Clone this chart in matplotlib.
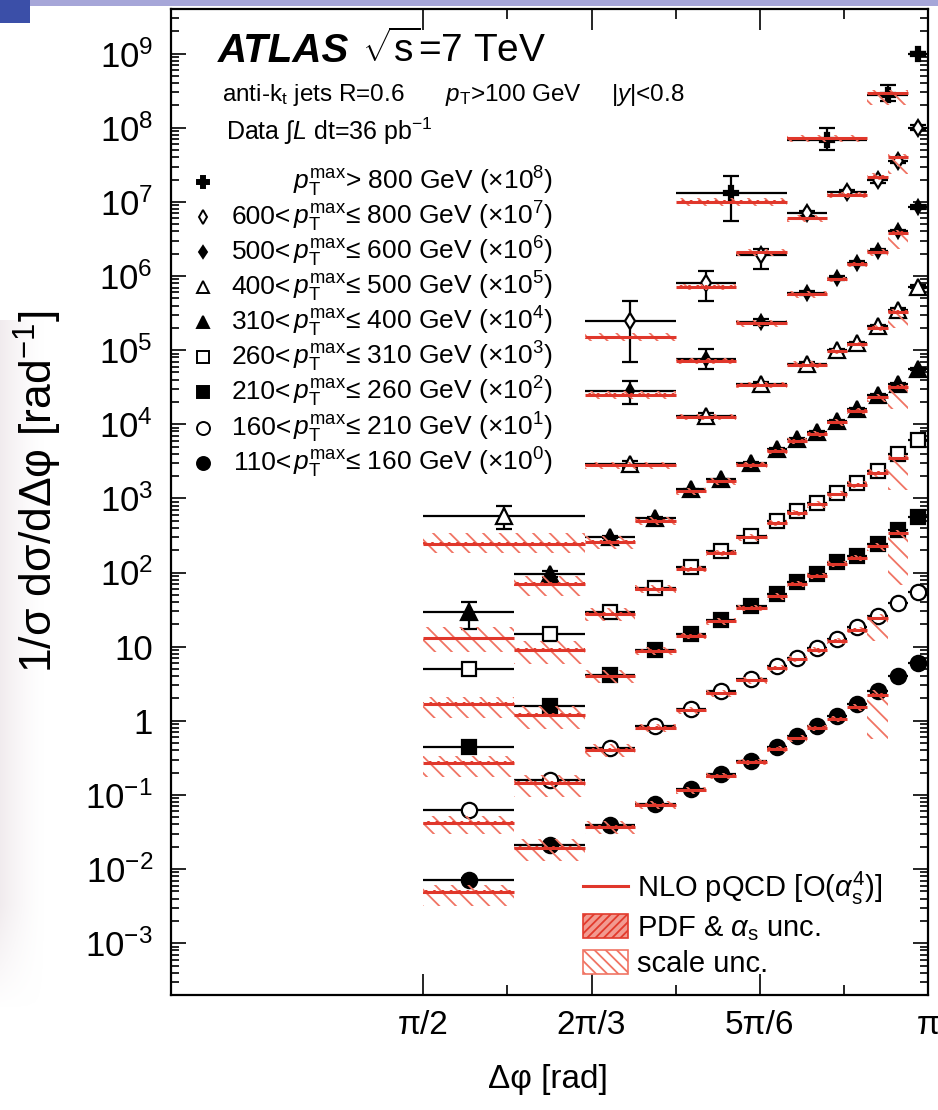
import numpy as np
import matplotlib
matplotlib.use("Agg")
import matplotlib.pyplot as plt
from matplotlib.lines import Line2D
from matplotlib.patches import Patch, Rectangle
from matplotlib.ticker import FixedLocator, LogLocator, NullFormatter, FuncFormatter

plt.rcParams['font.family'] = ['Liberation Sans', 'DejaVu Sans']
plt.rcParams['mathtext.fontset'] = 'custom'
plt.rcParams['mathtext.rm'] = 'Liberation Sans'
plt.rcParams['mathtext.it'] = 'Liberation Sans:italic'
plt.rcParams['mathtext.bf'] = 'Liberation Sans:bold'
plt.rcParams['hatch.linewidth'] = 1.3

nan = np.nan

# ---- bin edges in units of pi ----
edges_low = [0.50, 0.59, 0.66, 0.71, 0.75, 0.78, 0.81, 0.84, 0.86, 0.88, 0.90, 0.92, 0.94, 0.96, 0.98, 1.00]
edges_400 = [0.50, 0.66, 0.75, 0.81, 0.86, 0.90, 0.92, 0.94, 0.96, 0.98, 1.00]
edges_500 = [0.66, 0.75, 0.81, 0.86, 0.90, 0.92, 0.94, 0.96, 0.98, 1.00]
edges_600 = [0.66, 0.75, 0.81, 0.86, 0.90, 0.94, 0.96, 0.98, 1.00]
edges_800 = [0.75, 0.86, 0.94, 0.98, 1.00]

# ---- measured 1/sigma dsigma/dDphi (before the x10^n offsets) ----
data_110 = [0.0072, 0.021, 0.039, 0.076, 0.12, 0.19, 0.29, 0.45, 0.62, 0.85, 1.15, 1.68, 2.55, 4.0, 6.0]
data_160 = [0.0062, 0.016, 0.043, 0.084, 0.145, 0.25, 0.37, 0.55, 0.71, 0.96, 1.28, 1.82, 2.57, 3.85, 5.4]
data_210 = [0.0045, 0.016, 0.042, 0.091, 0.146, 0.23, 0.35, 0.51, 0.74, 0.96, 1.38, 1.68, 2.4, 3.72, 5.7]
data_260 = [0.005, 0.015, 0.029, 0.062, 0.118, 0.194, 0.314, 0.49, 0.667, 0.866, 1.18, 1.61, 2.33, 4.0, 6.1]
data_310 = [0.0029, 0.0096, 0.030, 0.054, 0.132, 0.18, 0.30, 0.46, 0.63, 0.78, 1.12, 1.62, 2.46, 3.47, 5.5]
data_400 = [0.0058, 0.0287, 0.13, 0.35, 0.66, 1.0, 1.23, 2.1, 3.5, 7.2]
data_500 = [0.028, 0.076, 0.24, 0.59, 0.94, 1.5, 2.2, 4.0, 8.5]
data_600 = [0.025, 0.08, 0.19, 0.70, 1.35, 1.95, 3.6, 10.0]
data_800 = [0.13, 0.69, 2.8, 10.0]

# relative total uncertainties (down, up)
errdn_110 = [0.04, 0.03, 0.03, 0.03, 0.03, 0.03, 0.03, 0.03, 0.03, 0.03, 0.03, 0.03, 0.03, 0.03, 0.03]
errup_110 = errdn_110
errdn_160 = errdn_110
errup_160 = errdn_110
errdn_210 = [0.10, 0.04, 0.03, 0.03, 0.03, 0.03, 0.03, 0.03, 0.03, 0.03, 0.03, 0.03, 0.03, 0.03, 0.03]
errup_210 = errdn_210
errdn_260 = [0.14, 0.05, 0.03, 0.03, 0.03, 0.03, 0.03, 0.03, 0.03, 0.03, 0.03, 0.03, 0.03, 0.03, 0.03]
errup_260 = [0.05, 0.05, 0.03, 0.03, 0.03, 0.03, 0.03, 0.03, 0.03, 0.03, 0.03, 0.03, 0.03, 0.03, 0.03]
errdn_310 = [0.40, 0.08, 0.04, 0.03, 0.03, 0.03, 0.03, 0.03, 0.03, 0.03, 0.03, 0.03, 0.03, 0.03, 0.03]
errup_310 = [0.38, 0.08, 0.04, 0.03, 0.03, 0.03, 0.03, 0.03, 0.03, 0.03, 0.03, 0.03, 0.03, 0.03, 0.03]
errdn_400 = [0.33, 0.10, 0.08, 0.05, 0.05, 0.05, 0.05, 0.05, 0.05, 0.05]
errup_400 = [0.35, 0.10, 0.08, 0.05, 0.05, 0.05, 0.05, 0.05, 0.05, 0.05]
errdn_500 = [0.32, 0.26, 0.10, 0.06, 0.06, 0.06, 0.06, 0.06, 0.06]
errup_500 = [0.39, 0.38, 0.10, 0.06, 0.06, 0.06, 0.06, 0.06, 0.06]
errdn_600 = [0.72, 0.42, 0.35, 0.08, 0.08, 0.08, 0.08, 0.08]
errup_600 = [0.84, 0.46, 0.20, 0.08, 0.08, 0.08, 0.08, 0.08]
errdn_800 = [0.57, 0.28, 0.18, 0.05]
errup_800 = [0.70, 0.45, 0.36, 0.05]

# ---- NLO pQCD prediction (before offsets) ----
nlo_110 = [0.0049, 0.0195, 0.037, 0.073, 0.115, 0.18, 0.28, 0.42, 0.58, 0.80, 1.06, 1.52, 2.25, nan, nan]
nlo_160 = [0.0042, 0.0145, 0.041, 0.080, 0.138, 0.235, 0.35, 0.52, 0.68, 0.91, 1.20, 1.70, 2.40, nan, nan]
nlo_210 = [0.0027, 0.012, 0.040, 0.088, 0.14, 0.22, 0.335, 0.48, 0.70, 0.91, 1.30, 1.58, 2.25, 3.4, nan]
nlo_260 = [0.0017, 0.0091, 0.028, 0.060, 0.112, 0.185, 0.30, 0.47, 0.64, 0.83, 1.13, 1.54, 2.2, 3.5, nan]
nlo_310 = [0.0013, 0.0070, 0.0258, 0.050, 0.125, 0.17, 0.285, 0.44, 0.60, 0.74, 1.06, 1.53, 2.3, 3.2, nan]
nlo_400 = [0.00245, 0.028, 0.125, 0.34, 0.64, 0.97, 1.2, 2.0, 3.3, nan]
nlo_500 = [0.025, 0.072, 0.23, 0.57, 0.90, 1.45, 2.1, 3.8, nan]
nlo_600 = [0.015, 0.072, 0.21, 0.60, 1.24, 2.2, 4.0, nan]
nlo_800 = [0.10, 0.72, 2.9, nan]

# relative scale uncertainty (down, up)
sdn_110 = [0.35, 0.35, 0.2, 0.12, 0.1, 0.1, 0.1, 0.1, 0.1, 0.1, 0.1, 0.1, 0.75, nan, nan]
sup_110 = [0.25, 0.30, 0.2, 0.12, 0.1, 0.1, 0.1, 0.1, 0.1, 0.1, 0.1, 0.1, 0.15, nan, nan]
sdn_160 = [0.30, 0.35, 0.2, 0.12, 0.1, 0.1, 0.1, 0.1, 0.1, 0.1, 0.1, 0.1, 0.50, nan, nan]
sup_160 = sup_110
sdn_210 = [0.35, 0.35, 0.2, 0.12, 0.1, 0.1, 0.1, 0.1, 0.1, 0.1, 0.1, 0.1, 0.12, 0.80, nan]
sup_210 = [0.25, 0.30, 0.2, 0.12, 0.1, 0.1, 0.1, 0.1, 0.1, 0.1, 0.1, 0.1, 0.12, 0.10, nan]
sdn_260 = [0.35, 0.35, 0.2, 0.12, 0.1, 0.1, 0.1, 0.1, 0.1, 0.1, 0.1, 0.1, 0.12, 0.63, nan]
sup_260 = sup_210
sdn_310 = [0.35, 0.30, 0.2, 0.12, 0.1, 0.1, 0.1, 0.1, 0.1, 0.1, 0.1, 0.1, 0.12, 0.50, nan]
sup_310 = [0.40, 0.30, 0.2, 0.12, 0.1, 0.1, 0.1, 0.1, 0.1, 0.1, 0.1, 0.1, 0.12, 0.10, nan]
sdn_400 = [0.25, 0.12, 0.1, 0.1, 0.1, 0.08, 0.08, 0.1, 0.4, nan]
sup_400 = [0.40, 0.12, 0.1, 0.1, 0.1, 0.08, 0.08, 0.1, 0.1, nan]
sdn_500 = [0.12, 0.1, 0.1, 0.1, 0.08, 0.08, 0.1, 0.4, nan]
sup_500 = [0.12, 0.1, 0.1, 0.1, 0.08, 0.08, 0.1, 0.1, nan]
sdn_600 = [0.12, 0.1, 0.1, 0.1, 0.08, 0.1, 0.4, nan]
sup_600 = [0.12, 0.1, 0.1, 0.1, 0.08, 0.1, 0.1, nan]
sdn_800 = [0.12, 0.1, 0.3, nan]
sup_800 = [0.12, 0.1, 0.1, nan]

pdf_frac = 0.05

SCALE_C = '#f07464'
PDF_C = '#e23a2c'
LINE_C = '#e0372b'

fig = plt.figure(figsize=(9.38, 11.1), dpi=100)

# faint slide background on the left edge
bg = fig.add_axes([0, 1 - 1010 / 1110, 45 / 938, 690 / 1110])
fx = np.linspace(1, 0, 90) ** 1.5
fy = np.clip(np.linspace(0, 1, 200) / 0.15, 0, 1)[::-1][:, None]
alpha = fy * fx[None, :] * 0.55
rgba = np.zeros((200, 90, 4))
rgba[..., 0] = 0.90
rgba[..., 1] = 0.86
rgba[..., 2] = 0.88
rgba[..., 3] = alpha
bg.imshow(rgba, aspect='auto', extent=(0, 1, 0, 1))
bg.axis('off')

ax = fig.add_axes([171 / 938, 1 - 995 / 1110, 757 / 938, 986 / 1110])


def draw_data(edges, vals, power, edn, eup, marker, filled, ms):
    e = np.array(edges) * np.pi
    c = 0.5 * (e[:-1] + e[1:])
    hw = np.diff(e) / 2
    y = np.array(vals) * 10.0 ** power
    ax.errorbar(c, y, xerr=hw, fmt='none', ecolor='black', elinewidth=1.6, capsize=0, zorder=2)
    ax.errorbar(c, y, yerr=[y * np.array(edn), y * np.array(eup)], fmt='none', ecolor='black',
                elinewidth=1.6, capsize=6, capthick=1.6, zorder=2)
    ax.plot(c, y, ls='none', marker=marker, ms=ms, mfc='black' if filled else 'white',
            mec='black', mew=1.6, zorder=3)


def draw_nlo(edges, nlo, power, sdn, sup):
    e = np.array(edges) * np.pi
    c = 0.5 * (e[:-1] + e[1:])
    w = np.diff(e)
    t = np.array(nlo) * 10.0 ** power
    ok = ~np.isnan(t)
    lo = t * (1 - np.array(sdn))
    hi = t * (1 + np.array(sup))
    ax.bar(c[ok], (hi - lo)[ok], bottom=lo[ok], width=w[ok], facecolor='none',
           edgecolor=SCALE_C, hatch='\\\\', linewidth=0, zorder=4)
    plo = t * (1 - pdf_frac)
    phi = t * (1 + pdf_frac)
    ax.bar(c[ok], (phi - plo)[ok], bottom=plo[ok], width=w[ok], facecolor='none',
           edgecolor=PDF_C, hatch='////', linewidth=0, zorder=4)
    ax.hlines(t[ok], e[:-1][ok], e[1:][ok], color=LINE_C, lw=2.2, zorder=5)


series = [
    (edges_800, data_800, errdn_800, errup_800, nlo_800, sdn_800, sup_800, 8, 'P', True, 10),
    (edges_600, data_600, errdn_600, errup_600, nlo_600, sdn_600, sup_600, 7, 'd', False, 8),
    (edges_500, data_500, errdn_500, errup_500, nlo_500, sdn_500, sup_500, 6, 'd', True, 7.5),
    (edges_400, data_400, errdn_400, errup_400, nlo_400, sdn_400, sup_400, 5, '^', False, 11),
    (edges_low, data_310, errdn_310, errup_310, nlo_310, sdn_310, sup_310, 4, '^', True, 11),
    (edges_low, data_260, errdn_260, errup_260, nlo_260, sdn_260, sup_260, 3, 's', False, 10),
    (edges_low, data_210, errdn_210, errup_210, nlo_210, sdn_210, sup_210, 2, 's', True, 10),
    (edges_low, data_160, errdn_160, errup_160, nlo_160, sdn_160, sup_160, 1, 'o', False, 11),
    (edges_low, data_110, errdn_110, errup_110, nlo_110, sdn_110, sup_110, 0, 'o', True, 11),
]

for ed, d, edn, eup, nl, sd, su, pw, mk, fl, ms in series:
    draw_data(ed, d, pw, edn, eup, mk, fl, ms)
    draw_nlo(ed, nl, pw, sd, su)

# ---- axes ----
ax.set_yscale('log')
ax.set_xlim(np.pi / 4, np.pi)
ax.set_ylim(2e-4, 4e9)

ax.xaxis.set_major_locator(FixedLocator([np.pi / 2, 2 * np.pi / 3, 5 * np.pi / 6, np.pi]))
ax.xaxis.set_minor_locator(FixedLocator([7 * np.pi / 12, 3 * np.pi / 4, 11 * np.pi / 12]))
ax.set_xticklabels(['π/2', '2π/3', '5π/6', 'π'])


def yfmt(v, pos):
    n = int(round(np.log10(v)))
    if n == 0:
        return '1'
    if n == 1:
        return '10'
    return r'$10^{%d}$' % n


ax.yaxis.set_major_locator(LogLocator(base=10, numticks=30))
ax.yaxis.set_minor_locator(LogLocator(base=10, subs=np.arange(2, 10), numticks=100))
ax.yaxis.set_major_formatter(FuncFormatter(yfmt))
ax.yaxis.set_minor_formatter(NullFormatter())

ax.tick_params(which='both', direction='in', top=True, right=True, width=1.2)
ax.tick_params(axis='x', which='major', length=15, pad=11, labelsize=24)
ax.tick_params(axis='x', which='minor', length=7.5)
ax.tick_params(axis='y', which='major', length=11, pad=13, labelsize=25)
ax.tick_params(axis='y', which='minor', length=5.5)
for sp in ax.spines.values():
    sp.set_linewidth(1.6)

ax.set_xlabel('Δφ [rad]', fontsize=24)
ax.xaxis.set_label_coords((548 - 171) / 757, -0.070)
ax.set_ylabel(r'1/σ dσ/dΔφ [rad$^{-1}$]', fontsize=32)
ax.yaxis.set_label_coords((64 - 171) / 757, 0.51)


def axc(px, py):
    return (px - 171) / 757, 1 - (py - 9) / 986


# ---- labels top left ----
x0, y0 = axc(218, 62)
ax.text(x0, y0, 'ATLAS', transform=ax.transAxes, fontsize=29, fontweight='bold',
        fontstyle='italic', va='baseline', ha='left')
x0, y0 = axc(362, 62)
ax.text(x0, y0, r'$\sqrt{\rm s}$=7 TeV', transform=ax.transAxes, fontsize=28,
        va='baseline', ha='left')
for px, s in [(222, r'anti-k$_{\rm t}$ jets R=0.6'), (445, r'$p_{\rm T}$>100 GeV'),
              (611, r'|$y$|<0.8')]:
    x0, y0 = axc(px, 95)
    ax.text(x0, y0, s, transform=ax.transAxes, fontsize=17.5, va='center', ha='left')
x0, y0 = axc(226, 131)
ax.text(x0, y0, r'Data $\int$$L$ dt=36 pb$^{-1}$', transform=ax.transAxes, fontsize=18,
        va='center', ha='left')

ranges_lo = ['', '600<', '500<', '400<', '310<', '260<', '210<', '160<', '110<']
ranges_hi = ['> 800', '≤ 800', '≤ 600', '≤ 500', '≤ 400', '≤ 310', '≤ 260', '≤ 210', '≤ 160']
row_y = [182, 217, 252, 287, 322, 357, 392, 428, 463]

for i, (ed, d, edn, eup, nl, sd, su, pw, mk, fl, ms) in enumerate(series):
    mx, my = axc(203, row_y[i])
    ax.plot([mx], [my], transform=ax.transAxes, ls='none', marker=mk,
            ms=ms * (0.85 if mk != 'P' else 0.9), mfc='black' if fl else 'white',
            mec='black', mew=1.4, clip_on=False, zorder=6)
    tx, ty = axc(291, row_y[i])
    if ranges_lo[i]:
        ax.text(tx, ty, ranges_lo[i], transform=ax.transAxes, fontsize=19, ha='right', va='center')
    tx, ty = axc(293, row_y[i])
    ax.text(tx, ty, r'$p_{\rm T}^{\rm max}$' + ranges_hi[i] + ' GeV (×10$^{%d}$)' % pw,
            transform=ax.transAxes, fontsize=19, ha='left', va='center')

# ---- theory legend ----
handles = [
    Line2D([0], [0], color=LINE_C, lw=2.2),
    Patch(facecolor='#f29a90', edgecolor=PDF_C, hatch='////', linewidth=1.2),
    Patch(facecolor='white', edgecolor=SCALE_C, hatch='\\\\\\', linewidth=1.2),
]
labels = [r'NLO pQCD [O($\alpha_{\rm s}^{4}$)]', r'PDF & $\alpha_{\rm s}$ unc.', 'scale unc.']
lx, ly = axc(583, 870)
ax.legend(handles, labels, loc='upper left', bbox_to_anchor=(lx, ly), frameon=False,
          fontsize=21, handlelength=1.55, handleheight=0.85, handletextpad=0.3,
          labelspacing=0.24, borderpad=0, borderaxespad=0)

# ---- slide decoration around the figure ----
fig.add_artist(Rectangle((0, 1 - 6 / 1110), 1, 6 / 1110, transform=fig.transFigure,
                         facecolor='#a6a6d8', edgecolor='none'))
fig.add_artist(Rectangle((0, 1 - 23 / 1110), 30 / 938, 23 / 1110, transform=fig.transFigure,
                         facecolor='#3b4fa8', edgecolor='none'))

fig.savefig('out.png', dpi=100)
